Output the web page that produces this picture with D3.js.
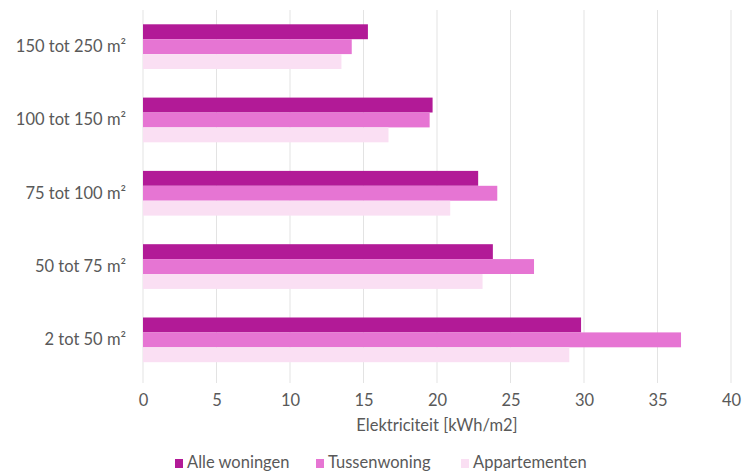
<!DOCTYPE html>
<html>
<head>
<meta charset="utf-8">
<script src="https://cdn.jsdelivr.net/npm/d3@7"></script>
<style>
  html, body { margin: 0; padding: 0; background: #ffffff; }
  svg { display: block; }
  text { font-family: Lato, "Open Sans", sans-serif; fill: #595959; }
</style>
</head>
<body>
<svg id="chart" width="752" height="472"></svg>
<script>
// Electricity use per floor-area class
const categories = ["150 tot 250 m²", "100 tot 150 m²", "75 tot 100 m²", "50 tot 75 m²", "2 tot 50 m²"];
const seriesNames = ["Alle woningen", "Tussenwoning", "Appartementen"];
const alleWoningen = [15.3, 19.7, 22.8, 23.8, 29.8];
const tussenwoning = [14.2, 19.5, 24.1, 26.6, 36.6];
const appartementen = [13.5, 16.7, 20.9, 23.1, 29.0];
const xTicks = [0, 5, 10, 15, 20, 25, 30, 35, 40];
const axisTitle = "Elektriciteit [kWh/m2]";

const colors = ["#b21a97", "#e675d3", "#fadff3"];
const seriesValues = [alleWoningen, tussenwoning, appartementen];
const fontSize = "16.5px";

const svg = d3.select("#chart");
const margin = { left: 143, top: 10 };

const x = d3.scaleLinear().domain([0, 40]).range([margin.left, 731]);
const y = d3.scaleBand().domain(categories).range([margin.top, 376.5]).paddingInner(0.39).paddingOuter(0.195);
const ySub = d3.scaleBand().domain(seriesNames).range([0, y.bandwidth()]);

// vertical gridlines
svg.append("g")
  .selectAll("line")
  .data(xTicks)
  .join("line")
  .attr("x1", d => x(d)).attr("x2", d => x(d))
  .attr("y1", margin.top).attr("y2", 383)
  .attr("stroke", "#e3e3e3").attr("stroke-width", 1);

// bars
const groups = svg.append("g")
  .selectAll("g")
  .data(categories)
  .join("g")
  .attr("transform", d => `translate(0,${y(d)})`);

groups.selectAll("rect")
  .data((c, i) => seriesNames.map((s, j) => ({ s, j, v: seriesValues[j][i] })))
  .join("rect")
  .attr("x", x(0))
  .attr("y", d => ySub(d.s))
  .attr("width", d => x(d.v) - x(0))
  .attr("height", ySub.bandwidth())
  .attr("fill", d => colors[d.j]);

// x axis labels
const xAxis = d3.axisBottom(x).tickValues(xTicks).tickSize(0).tickPadding(0);
const gx = svg.append("g").attr("transform", "translate(0,394)").call(xAxis);
gx.select(".domain").remove();
gx.selectAll("text").style("font-size", fontSize).style("font-family", "Lato, 'Open Sans', sans-serif").attr("fill", "#595959");

// y axis labels
const yAxis = d3.axisLeft(y).tickSize(0).tickPadding(17);
const gy = svg.append("g").attr("transform", `translate(${margin.left},0)`).call(yAxis);
gy.select(".domain").remove();
gy.selectAll("text").style("font-size", fontSize).style("font-family", "Lato, 'Open Sans', sans-serif").attr("fill", "#595959");

// axis title
svg.append("text")
  .attr("x", (x(0) + x(40)) / 2)
  .attr("y", 431)
  .attr("text-anchor", "middle")
  .style("font-size", fontSize)
  .text(axisTitle);

// legend
const legendX = [175, 316, 461];
const legend = svg.append("g")
  .selectAll("g")
  .data(seriesNames)
  .join("g")
  .attr("transform", (d, i) => `translate(${legendX[i]},458)`);
legend.append("rect").attr("width", 8).attr("height", 9).attr("y", 1).attr("fill", (d, i) => colors[i]);
legend.append("text").attr("x", 12).attr("y", 10).style("font-size", fontSize).text(d => d);
</script>
</body>
</html>
